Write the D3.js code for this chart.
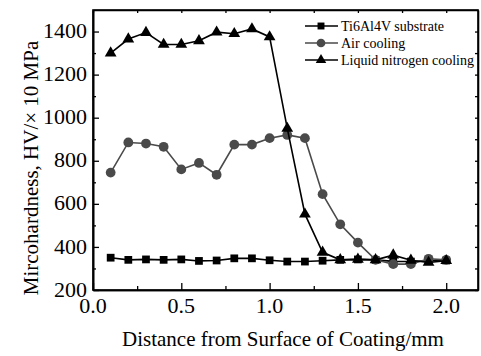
<!DOCTYPE html>
<html><head><meta charset="utf-8">
<script src="https://cdn.jsdelivr.net/npm/d3@7/dist/d3.min.js"></script>
<style>body{margin:0;background:#fff}svg{display:block}</style>
</head><body>
<script>
const distances = [0.1,0.2,0.3,0.4,0.5,0.6,0.7,0.8,0.9,1.0,1.1,1.2,1.3,1.4,1.5,1.6,1.7,1.8,1.9,2.0];
const substrate = [350,340,342,340,342,335,337,347,347,338,332,332,336,340,342,340,333,332,335,337];
const airCooling = [745,885,880,865,760,790,735,875,875,905,920,905,645,505,420,340,320,320,345,340];
const liquidN2 = [1300,1365,1395,1340,1340,1357,1397,1390,1412,1375,950,552,375,340,342,340,362,338,328,336];
const seriesNames = ["Ti6Al4V substrate","Air cooling","Liquid nitrogen cooling"];
const xTicks = [0,0.5,1.0,1.5,2.0];
const yTicks = [200,400,600,800,1000,1200,1400];
const xTickLabels = ["0.0","0.5","1.0","1.5","2.0"];
const yTickLabels = ["200","400","600","800","1000","1200","1400"];

const FONT="Liberation Serif";
const NUMFONT="'Times New Roman', 'Liberation Serif', serif";
const W=481,H=356;
const m={l:93,r:3,t:10,b:66};
const svg=d3.select("body").append("svg").attr("width",W).attr("height",H);
const x=d3.scaleLinear().domain([0,2.18]).range([m.l,W-m.r]);
const y=d3.scaleLinear().domain([200,1500]).range([H-m.b,m.t]);

const series=[
 {name:seriesNames[0],vals:substrate,color:"#000",shape:d3.symbolSquare,size:60},
 {name:seriesNames[1],vals:airCooling,color:"#4a4a4a",shape:d3.symbolCircle,size:75},
 {name:seriesNames[2],vals:liquidN2,color:"#000",shape:d3.symbolTriangle,size:60}
];

function styleAxis(g){
 g.selectAll(".domain").attr("stroke","#000").attr("stroke-width",1.6);
 g.selectAll(".tick line").attr("stroke","#000").attr("stroke-width",1.3);
}

const xMinor=d3.range(0,2.01,0.25);
const yMinor=d3.range(200,1401,100);
svg.append("g").attr("transform",`translate(0,${H-m.b})`)
 .call(d3.axisBottom(x).tickValues(xTicks).tickFormat("").tickSizeInner(-7).tickSizeOuter(0))
 .call(styleAxis);
svg.append("g").attr("transform",`translate(0,${H-m.b})`)
 .call(d3.axisBottom(x).tickValues(xMinor.filter(v=>Math.abs(v*2-Math.round(v*2))>1e-6)).tickFormat("").tickSizeInner(-4).tickSizeOuter(0))
 .call(styleAxis);
svg.append("g").attr("transform",`translate(${m.l},0)`)
 .call(d3.axisLeft(y).tickValues(yTicks).tickFormat("").tickSizeInner(-6).tickSizeOuter(0))
 .call(styleAxis);
svg.append("g").attr("transform",`translate(${m.l},0)`)
 .call(d3.axisLeft(y).tickValues(yMinor.filter(v=>v%200!==0)).tickFormat("").tickSizeInner(-3).tickSizeOuter(0))
 .call(styleAxis);
svg.append("g").attr("transform",`translate(0,${m.t})`)
 .call(d3.axisTop(x).tickValues(xMinor).tickFormat("").tickSizeInner(-3).tickSizeOuter(0))
 .call(styleAxis);
svg.append("g").attr("transform",`translate(${W-m.r},0)`)
 .call(d3.axisRight(y).tickValues(yMinor).tickFormat("").tickSizeInner(-3).tickSizeOuter(0))
 .call(styleAxis);

// tick labels
svg.append("g").selectAll("text").data(xTicks).join("text")
 .attr("x",d=>x(d)).attr("y",H-m.b+23).attr("text-anchor","middle")
 .attr("font-size",22).style("font-family",NUMFONT).attr("fill","#000")
 .text((d,i)=>xTickLabels[i]);
svg.append("g").selectAll("text").data(yTicks).join("text")
 .attr("x",m.l-6).attr("y",d=>y(d)).attr("dy","0.3em").attr("text-anchor","end")
 .attr("font-size",22).style("font-family",NUMFONT).attr("fill","#000")
 .text((d,i)=>yTickLabels[i]);

svg.append("rect").attr("x",m.l).attr("y",m.t).attr("width",W-m.r-m.l).attr("height",H-m.b-m.t)
 .attr("fill","none").attr("stroke","#000").attr("stroke-width",1.6);

const line=d3.line().x((d,i)=>x(distances[i])).y(d=>y(d));
series.forEach(s=>{
 svg.append("path").datum(s.vals).attr("d",line).attr("fill","none").attr("stroke",s.color).attr("stroke-width",1.6);
 svg.append("g").selectAll("path").data(s.vals).join("path")
  .attr("transform",(d,i)=>`translate(${x(distances[i])},${y(d)})`)
  .attr("d",d3.symbol().type(s.shape).size(s.size)).attr("fill",s.color);
});

const lg=svg.append("g");
series.forEach((s,i)=>{
 const yy=26+i*17;
 lg.append("line").attr("x1",305).attr("x2",338).attr("y1",yy).attr("y2",yy).attr("stroke",s.color).attr("stroke-width",1.6);
 lg.append("path").attr("transform",`translate(321,${yy})`).attr("d",d3.symbol().type(s.shape).size(s.size*0.8)).attr("fill",s.color);
 lg.append("text").attr("x",341).attr("y",yy).attr("dy","0.35em").attr("font-size",14).style("font-family",FONT).text(s.name);
});

svg.append("text").attr("x",283).attr("y",346).attr("text-anchor","middle").attr("font-size",21).style("font-family",FONT).text("Distance from Surface of Coating/mm");
svg.append("text").attr("transform","translate(38,168) rotate(-90)").attr("text-anchor","middle").attr("font-size",21).style("font-family",FONT).text("Mircohardness, HV/× 10 MPa");
</script>
</body></html>
